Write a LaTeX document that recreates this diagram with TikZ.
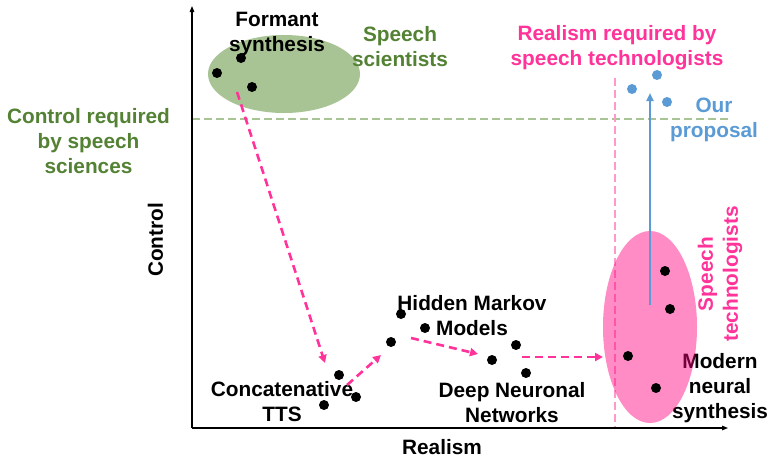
\documentclass[tikz,border=0pt]{standalone}
\usepackage{fontspec}
\setmainfont{Liberation Sans}
\usetikzlibrary{arrows.meta}

\definecolor{sciGreen}{RGB}{84,130,53}
\definecolor{sciFill}{RGB}{169,196,148}
\definecolor{techPink}{RGB}{255,51,153}
\definecolor{techFill}{RGB}{255,0,128}
\definecolor{techLine}{RGB}{255,153,204}
\definecolor{propBlue}{RGB}{91,155,213}

\tikzset{
  lbl/.style={font=\bfseries\fontsize{20.8}{25}\selectfont, align=center,
              inner sep=0pt, anchor=north},
  dot/.style={circle, fill=black, inner sep=0pt, minimum size=10pt},
  bluedot/.style={dot, fill=propBlue},
  trend/.style={draw=techPink, line width=2.6pt, dash pattern=on 8pt off 5pt,
                -{Triangle[length=8pt,width=8pt]}},
  axisline/.style={line width=1.3pt, -{Triangle[length=6pt,width=4.5pt]}},
  limitline/.style={line width=2pt, dash pattern=on 8pt off 4pt},
}

\begin{document}
\begin{tikzpicture}[x=1pt, y=-1pt]
  \fill[white] (0,0) rectangle (771,459);
  \useasboundingbox (0,0) rectangle (771,459);

  % group of speech scientists
  \fill[sciFill] (284,74) ellipse [x radius=76, y radius=39];

  % required control / required realism
  \coordinate (ctrlL) at (192,119);
  \coordinate (ctrlR) at (728,119);
  \draw[limitline, sciFill] (ctrlL) -- (ctrlR);
  \coordinate (realT) at (615,78);
  \coordinate (realB) at (615,428);
  \draw[limitline, techLine] (realT) -- (realB);

  % labels
  \node[lbl] (formant) at (277,12) {Formant\\synthesis};
  \node[lbl, text=sciGreen] (scientists) at (400,26.5) {Speech\\scientists};
  \node[lbl, text=sciGreen] (ctrlreq) at (88.5,108.5) {Control required\\by speech\\sciences};
  \node[lbl, text=techPink] (realreq) at (617,25.5) {Realism required by\\speech technologists};
  \node[lbl, text=propBlue] (proposal) at (714,97.5) {Our\\proposal};
  \node[lbl] (hmm) at (472,295) {Hidden Markov\\Models};
  \node[lbl] (concat) at (282,381.5) {Concatenative\\TTS};
  \node[lbl] (dnn) at (512,382.5) {Deep Neuronal\\Networks};
  \node[lbl] (modern) at (720,353) {Modern\\neural\\synthesis};
  \node[lbl, anchor=center, rotate=90, text=techPink] (technologists) at (720,274)
       {Speech\\technologists};
  \node[lbl, anchor=center, rotate=90] (ylabel) at (155.5,240) {Control};
  \node[lbl] (xlabel) at (442,439.5) {Realism};

  % group of speech technologists
  \fill[techFill, opacity=0.45] (650,327) ellipse [x radius=47, y radius=96];

  % axes
  \coordinate (origin) at (192,428);
  \coordinate (ytip) at (192,6);
  \coordinate (xtip) at (728,428);
  \draw[axisline] (origin) -- (ytip);
  \draw[axisline] (origin) -- (xtip);

  % systems
  \node[dot] (f1) at (241,58) {};
  \node[dot] (f2) at (217,73) {};
  \node[dot] (f3) at (252,87) {};
  \node[dot] (c1) at (339,375) {};
  \node[dot] (c2) at (356,397) {};
  \node[dot] (c3) at (324,405) {};
  \node[dot] (h1) at (391,342) {};
  \node[dot] (h2) at (401,314) {};
  \node[dot] (h3) at (425,328) {};
  \node[dot] (d1) at (492,360) {};
  \node[dot] (d2) at (516,345) {};
  \node[dot] (d3) at (526,373) {};
  \node[dot] (m1) at (665,271) {};
  \node[dot] (m2) at (670,309) {};
  \node[dot] (m3) at (628,356) {};
  \node[dot] (m4) at (656,388) {};
  \node[bluedot] (p1) at (632,89) {};
  \node[bluedot] (p2) at (657,75) {};
  \node[bluedot] (p3) at (667,102) {};

  % evolution of synthesis techniques
  \coordinate (s1) at (237,92);   \coordinate (e1) at (325,363);
  \coordinate (s2) at (347,385);  \coordinate (e2) at (381,355);
  \coordinate (s3) at (411,338);  \coordinate (e3) at (478,354);
  \coordinate (s4) at (522,357);  \coordinate (e4) at (603,357);
  \draw[trend] (s1) -- (e1);
  \draw[trend] (s2) -- (e2);
  \draw[trend] (s3) -- (e3);
  \draw[trend] (s4) -- (e4);

  % proposed direction
  \coordinate (b0) at (650,305);
  \coordinate (b1) at (650,93);
  \draw[propBlue, line width=2pt, -{Triangle[length=8pt,width=7pt]}] (b0) -- (b1);
\end{tikzpicture}
\end{document}
